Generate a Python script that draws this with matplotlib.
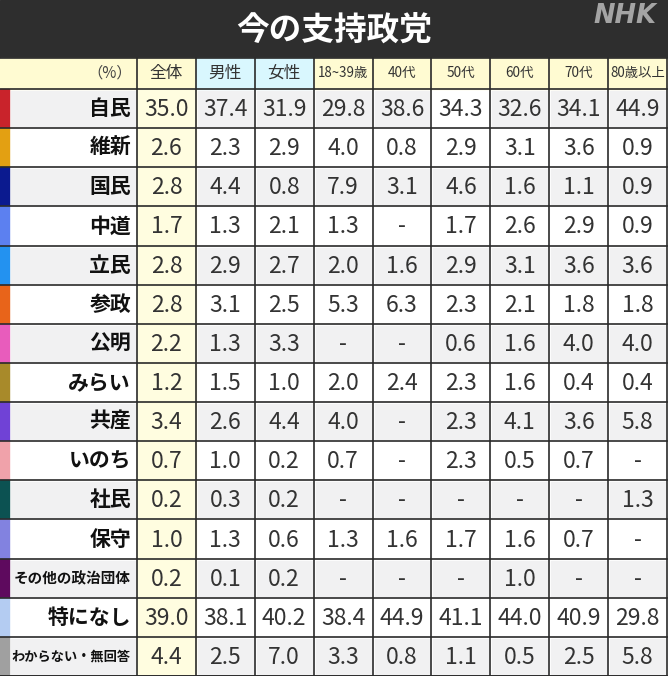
import matplotlib.pyplot as plt
from matplotlib.patches import Rectangle

plt.rcParams['font.family'] = ['Noto Sans CJK JP', 'DejaVu Sans']

parties = ["自民", "維新", "国民", "中道", "立民", "参政", "公明", "みらい", "共産",
           "いのち", "社民", "保守", "その他の政治団体", "特になし", "わからない・無回答"]
party_colors = ["#c9232b", "#e3a012", "#0b1a8f", "#5c80f0", "#2392f0", "#e8641a",
                "#e85cbc", "#a88a2a", "#7042d6", "#f0a2aa", "#0c5252", "#8282e0",
                "#5e0a5e", "#b4ccf2", "#a0a0a0"]
columns = ["全体", "男性", "女性", "18~39歳", "40代", "50代", "60代", "70代", "80歳以上"]

zentai = [35.0, 2.6, 2.8, 1.7, 2.8, 2.8, 2.2, 1.2, 3.4, 0.7, 0.2, 1.0, 0.2, 39.0, 4.4]
male = [37.4, 2.3, 4.4, 1.3, 2.9, 3.1, 1.3, 1.5, 2.6, 1.0, 0.3, 1.3, 0.1, 38.1, 2.5]
female = [31.9, 2.9, 0.8, 2.1, 2.7, 2.5, 3.3, 1.0, 4.4, 0.2, 0.2, 0.6, 0.2, 40.2, 7.0]
age18_39 = [29.8, 4.0, 7.9, 1.3, 2.0, 5.3, None, 2.0, 4.0, 0.7, None, 1.3, None, 38.4, 3.3]
age40 = [38.6, 0.8, 3.1, None, 1.6, 6.3, None, 2.4, None, None, None, 1.6, None, 44.9, 0.8]
age50 = [34.3, 2.9, 4.6, 1.7, 2.9, 2.3, 0.6, 2.3, 2.3, 2.3, None, 1.7, None, 41.1, 1.1]
age60 = [32.6, 3.1, 1.6, 2.6, 3.1, 2.1, 1.6, 1.6, 4.1, 0.5, None, 1.6, 1.0, 44.0, 0.5]
age70 = [34.1, 3.6, 1.1, 2.9, 3.6, 1.8, 4.0, 0.4, 3.6, 0.7, None, 0.7, None, 40.9, 2.5]
age80 = [44.9, 0.9, 0.9, 0.9, 3.6, 1.8, 4.0, 0.4, 5.8, None, 1.3, None, None, 29.8, 5.8]
table = [zentai, male, female, age18_39, age40, age50, age60, age70, age80]

# layout in pixels
W, H = 668, 676
title_h = 58
head_h = 31
strip_w = 9
label_w = 137
col_w = (667 - label_w) / len(columns)
row_h = (H - title_h - head_h) / len(parties)

fig = plt.figure(figsize=(W / 100, H / 100), dpi=100)
ax = fig.add_axes([0, 0, 1, 1])
ax.set_xlim(0, W)
ax.set_ylim(H, 0)
ax.axis("off")

# title bar
ax.add_patch(Rectangle((0, 0), W, title_h, color="#2e2e2e", zorder=0))
ax.text(W / 2, title_h / 2 + 1, "今の支持政党", color="white", fontsize=23.5,
        fontweight="bold", ha="center", va="center")
ax.text(625, 16, "NHK", color="#a4a4a4", fontsize=18.5, fontweight="bold",
        style="italic", ha="center", va="center", family="DejaVu Sans")

line_c = "#2a2a2a"

# header row
y0 = title_h
ax.add_patch(Rectangle((0, y0), label_w, head_h, color="#fffbd2", zorder=0))
ax.text(label_w - 5, y0 + head_h / 2, "（%）", fontsize=11, color="#444444",
        ha="right", va="center")
for j, name in enumerate(columns):
    x = label_w + j * col_w
    bg = "#d9f7fe" if name in ("男性", "女性") else "#fffbd2"
    ax.add_patch(Rectangle((x, y0), col_w, head_h, color=bg, zorder=0))
    fs = 12 if j < 3 else (9.8 if name.endswith("代") else 9.6)
    ax.text(x + col_w / 2, y0 + head_h / 2, name, fontsize=fs, color="#333333",
            ha="center", va="center")

# data rows
for i, party in enumerate(parties):
    y = title_h + head_h + i * row_h
    grey = i % 2 == 0
    if grey:
        ax.add_patch(Rectangle((strip_w + 2, y + 2), label_w - strip_w - 4, row_h - 4,
                               color="#f1f1f2", zorder=0))
    ax.add_patch(Rectangle((0, y), strip_w, row_h, color=party_colors[i], zorder=1))
    fs = 15 if len(party) <= 4 else (10.5 if len(party) == 8 else 9.5)
    ax.text(label_w - 6, y + row_h / 2, party, fontsize=fs, fontweight="bold",
            color="#111111", ha="right", va="center")
    for j, col in enumerate(table):
        x = label_w + j * col_w
        if j == 0:
            ax.add_patch(Rectangle((x, y), col_w, row_h, color="#fffde0", zorder=0))
        elif grey and not (i == 0 and j == 5):
            ax.add_patch(Rectangle((x + 2, y + 2), col_w - 4, row_h - 4,
                                   color="#f1f1f2", zorder=0))
        v = col[i]
        s = "-" if v is None else f"{v:.1f}"
        ax.text(x + col_w / 2, y + row_h / 2 + 1, s, fontsize=16.5, color="#333333",
                ha="center", va="center")

# grid lines
for k in range(len(parties) + 2):
    y = title_h + head_h + (k - 1) * row_h if k > 0 else title_h
    ax.plot([0, 667], [y, y], color=line_c, lw=1.2, zorder=3)
ax.plot([0, 667], [H - 0.5, H - 0.5], color=line_c, lw=1.2, zorder=3)
for j in range(len(columns) + 1):
    x = label_w + j * col_w
    ax.plot([x, x], [title_h, H], color=line_c, lw=1.2, zorder=3)

fig.savefig("out.png", dpi=100, facecolor="white")
